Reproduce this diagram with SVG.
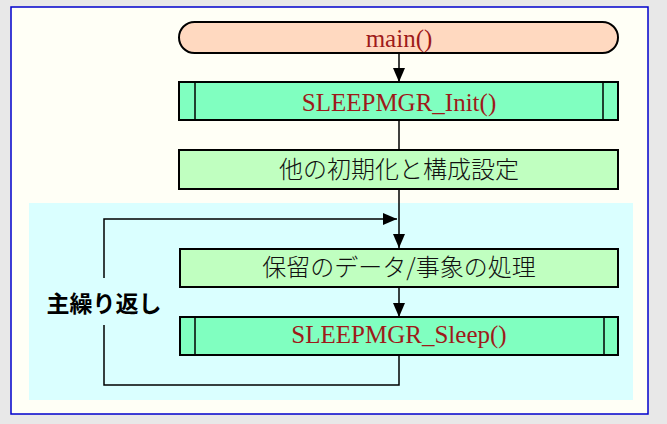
<svg xmlns="http://www.w3.org/2000/svg" width="667" height="424" viewBox="0 0 667 424">
<defs>
<style>
.box{stroke:#000;stroke-width:2}
.inner{stroke:#000;stroke-width:1.5;fill:none}
.conn{stroke:#000;stroke-width:1.5;fill:none}
.code{font-family:"Liberation Serif",serif;font-size:25px;fill:#9E1A1A;text-anchor:middle}
.jp{font-family:"Noto Sans CJK JP",sans-serif;font-size:24px;font-weight:300;fill:#111;text-anchor:middle}
.lbl{font-family:"Noto Sans CJK JP",sans-serif;font-size:23px;font-weight:bold;fill:#000;text-anchor:middle}
</style>
<marker id="ah" viewBox="0 0 14 12" refX="14" refY="6" markerWidth="14" markerHeight="12" markerUnits="userSpaceOnUse" orient="auto">
<path d="M0,0 L14,6 L0,12 Z" fill="#000"/>
</marker>
</defs>
<rect x="0" y="0" width="667" height="424" fill="#E8E8E8"/>
<rect x="11" y="7" width="637" height="407" fill="#FFFFF6" stroke="#0000CC" stroke-width="1.5"/>
<rect x="29" y="203" width="604" height="197" fill="#DAFFFF"/>
<g id="connectors">
<line class="conn" x1="399" y1="53" x2="399" y2="82" marker-end="url(#ah)"/>
<line class="conn" x1="399" y1="120" x2="399" y2="150"/>
<line class="conn" x1="399" y1="189" x2="399" y2="248" marker-end="url(#ah)"/>
<line class="conn" x1="399" y1="287" x2="399" y2="317" marker-end="url(#ah)"/>
<path class="conn" d="M399,355 V385 H104 V325"/>
<path class="conn" d="M104,278 V219 H397" marker-end="url(#ah)"/>
</g>
<g id="main">
<rect class="box" x="179" y="22" width="439" height="31" rx="15.5" fill="#FFD9C0"/>
<text class="code" x="399" y="47">main()</text>
</g>
<g id="init">
<rect class="box" x="179" y="82" width="439" height="38" fill="#80FFC0"/>
<line class="inner" x1="195" y1="82" x2="195" y2="120"/>
<line class="inner" x1="603" y1="82" x2="603" y2="120"/>
<text class="code" x="399" y="111">SLEEPMGR_Init()</text>
</g>
<g id="config">
<rect class="box" x="179" y="150" width="439" height="39" fill="#C0FFC0"/>
<text class="jp" x="399" y="178">他の初期化と構成設定</text>
</g>
<g id="process">
<rect class="box" x="180" y="249" width="438" height="38" fill="#C0FFC0"/>
<text class="jp" x="399" y="276">保留のデータ/事象の処理</text>
</g>
<g id="sleep">
<rect class="box" x="180" y="317" width="438" height="38" fill="#80FFC0"/>
<line class="inner" x1="195" y1="317" x2="195" y2="355"/>
<line class="inner" x1="604" y1="317" x2="604" y2="355"/>
<text class="code" x="399" y="343">SLEEPMGR_Sleep()</text>
</g>
<g id="loop-label">
<text class="lbl" x="104" y="312">主繰り返し</text>
</g>
</svg>
